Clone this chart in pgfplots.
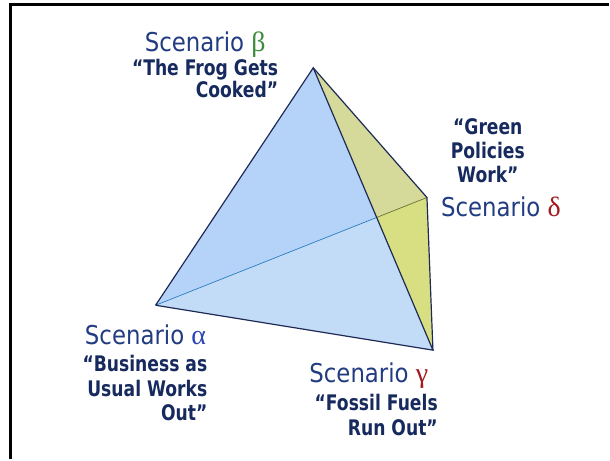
\documentclass[border=0pt]{standalone}
\usepackage{pgfplots}
\pgfplotsset{compat=1.18}
\usepackage{fontspec}
\setmainfont{DejaVu Sans}[FakeStretch=0.88, BoldFeatures={FakeStretch=0.80}]
\newfontfamily\grk{Liberation Serif}
\definecolor{navy}{HTML}{223C82}
\definecolor{navyb}{HTML}{172A5E}
\definecolor{gb}{HTML}{3C8C3A}
\definecolor{ab}{HTML}{2A45B5}
\definecolor{rd}{HTML}{A31A1E}
\definecolor{faceA}{HTML}{B5D3F8}
\definecolor{faceB}{HTML}{C2DCF8}
\definecolor{faceC}{HTML}{D5DA9B}
\definecolor{faceD}{HTML}{D8DF82}
\definecolor{edge}{HTML}{1E2A55}
\newcommand{\scen}{\fontsize{26bp}{30bp}\selectfont\color{navy}}
\newcommand{\grkl}{\fontsize{28bp}{30bp}\selectfont\grk}
\newcommand{\quo}{\fontsize{21.5bp}{25bp}\selectfont\bfseries\color{navyb}}
\begin{document}
\begin{tikzpicture}
\begin{axis}[
  scale only axis, width=610bp, height=460bp,
  xmin=0, xmax=610, ymin=0, ymax=460, y dir=reverse,
  hide axis, clip=false]
% background
\addplot[draw=none, fill=white] coordinates {(0,0) (610,0) (610,460) (0,460)} -- cycle;
% frame
\addplot[black, line width=3bp] coordinates {(11,460) (11,5) (610,5)};
% faces
\addplot[draw=none, fill=faceA] coordinates {(156,306) (314,68) (377.6,218)} -- cycle;
\addplot[draw=none, fill=faceB] coordinates {(156,306) (377.6,218) (434,351)} -- cycle;
\addplot[draw=none, fill=faceC] coordinates {(314,68) (428,198) (377.6,218)} -- cycle;
\addplot[draw=none, fill=faceD] coordinates {(377.6,218) (428,198) (434,351)} -- cycle;
% hidden edge
\addplot[color={rgb,255:red,42;green,123;blue,192}, line width=0.7bp] coordinates {(156,306) (377.6,218)};
\addplot[color={rgb,255:red,100;green,115;blue,45}, line width=0.7bp] coordinates {(377.6,218) (428,198)};
% edges
\addplot[edge, line width=1.2bp] coordinates {(156,306) (314,68) (434,351) (156,306)};
\addplot[edge, line width=1.2bp] coordinates {(314,68) (428,198) (434,351)};
% labels
\node[anchor=base west, inner sep=0pt] at (axis cs:145,52) {\scen Scenario {\grkl\color{gb}β}};
\node[anchor=base east, inner sep=0pt] at (axis cs:279,76) {\quo “The Frog Gets};
\node[anchor=base east, inner sep=0pt] at (axis cs:279,98) {\quo Cooked”};
\node[anchor=base, inner sep=0pt] at (axis cs:489,135) {\quo “Green};
\node[anchor=base, inner sep=0pt] at (axis cs:489,159) {\quo Policies};
\node[anchor=base, inner sep=0pt] at (axis cs:489,183) {\quo Work”};
\node[anchor=base west, inner sep=0pt] at (axis cs:442,217) {\scen Scenario {\grkl\color{rd}δ}};
\node[anchor=base west, inner sep=0pt] at (axis cs:85,345) {\scen Scenario {\grkl\color{ab}α}};
\node[anchor=base east, inner sep=0pt] at (axis cs:208,372) {\quo “Business as};
\node[anchor=base east, inner sep=0pt] at (axis cs:208,397) {\quo Usual Works};
\node[anchor=base east, inner sep=0pt] at (axis cs:208,422) {\quo Out”};
\node[anchor=base west, inner sep=0pt] at (axis cs:310,383) {\scen Scenario {\grkl\color{rd}γ}};
\node[anchor=base east, inner sep=0pt] at (axis cs:439,412) {\quo “Fossil Fuels};
\node[anchor=base east, inner sep=0pt] at (axis cs:439,437) {\quo Run Out”};
\end{axis}
\end{tikzpicture}
\end{document}
